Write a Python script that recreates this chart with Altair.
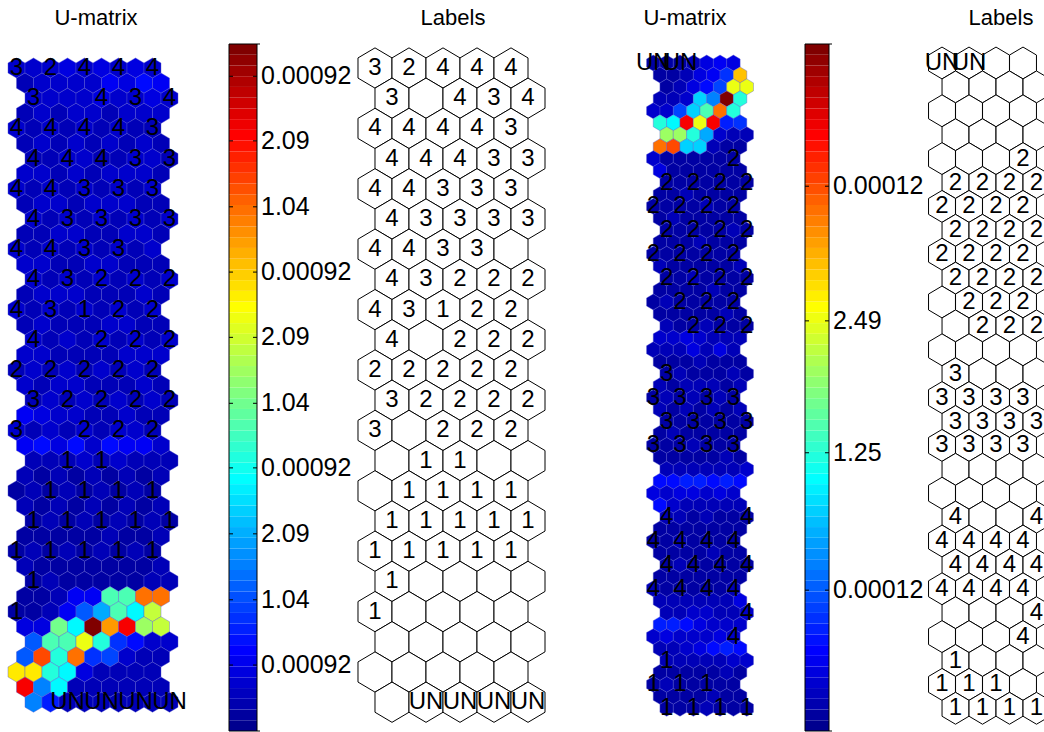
import altair as alt
import pandas as pd

TITLES = ["U-matrix", "Labels", "U-matrix", "Labels"]

# U-matrix colour levels, one character per hexagon (codebook below)
LEVEL_CODES = "0123456789fghijklmnopqrstuvwxyz"
LEVEL_VALUES = [0.00, 0.02, 0.04, 0.06, 0.08, 0.10, 0.12, 0.14, 0.16, 0.18,
                0.20, 0.24, 0.28, 0.32, 0.36, 0.40, 0.44, 0.48, 0.52, 0.56,
                0.60, 0.64, 0.68, 0.72, 0.76, 0.80, 0.84, 0.88, 0.92, 0.96, 1.00]

LEFT_UMAT = [
    "333434343", "233335465", "333343343", "232332333", "323232322",
    "232323232", "223322332", "332323332", "323232323", "233233322",
    "323232323", "223322332", "323232323", "332233222", "323232323",
    "233322232", "323232323", "232223322", "323232323", "332222333",
    "232323232", "323322232", "232323232", "543322322", "323232332",
    "564636553", "222323222", "212121212", "121212121", "212121212",
    "121212121", "111112112", "121212121", "211111112", "121111122",
    "11255lltt", "1125fhljo", "44mjzswno", "fllpk8633", "fukt89322",
    "qqkj42222", "wgj222222", "g72222222",
]

RIGHT_UMAT = [
    "1112454", "112458r", "12469pp", "223igzk", "339iltk", "kjwpw78",
    "nnkh322", "tuii211", "3111111", "4111111", "1111111", "1121111",
    "1111211", "1211111", "1111121", "1112111", "1111111", "2111112",
    "1121111", "1111211", "1211111", "1111121", "2112111", "3343222",
    "2224242", "1112111", "1211121", "2122212", "1212121", "2121212",
    "1111111", "1211111", "1112111", "1111121", "2222223", "6677676",
    "4344343", "6322222", "2212111", "1111111", "1121111", "1111211",
    "1211111", "1111111", "2111112", "2222224", "2233223", "7764333",
    "3433343", "2234676", "2222233", "1111121", "1211111", "1111211",
    "1112111",
]

LEFT_LABELS = [
    ["3", "2", "4", "4", "4"], ["3", "", "4", "3", "4"], ["4", "4", "4", "4", "3"],
    ["4", "4", "4", "3", "3"], ["4", "4", "3", "3", "3"], ["4", "3", "3", "3", "3"],
    ["4", "4", "3", "3", ""], ["4", "3", "2", "2", "2"], ["4", "3", "1", "2", "2"],
    ["4", "", "2", "2", "2"], ["2", "2", "2", "2", "2"], ["3", "2", "2", "2", "2"],
    ["3", "", "2", "2", "2"], ["", "1", "1", "", ""], ["", "1", "1", "1", "1"],
    ["1", "1", "1", "1", "1"], ["1", "1", "1", "1", "1"], ["1", "", "", "", ""],
    ["1", "", "", "", ""], ["", "", "", "", ""], ["", "", "", "", ""],
    ["", "UN", "UN", "UN", "UN"],
]

RIGHT_LABELS = [
    ["UN", "UN", "", ""], ["", "", "", ""], ["", "", "", ""], ["", "", "", ""],
    ["", "", "", "2"], ["2", "2", "2", "2"], ["2", "2", "2", "2"], ["2", "2", "2", "2"],
    ["2", "2", "2", "2"], ["2", "2", "2", "2"], ["", "2", "2", "2"], ["", "2", "2", "2"],
    ["", "", "", ""], ["3", "", "", ""], ["3", "3", "3", "3"], ["3", "3", "3", "3"],
    ["3", "3", "3", "3"], ["", "", "", ""], ["", "", "", ""], ["4", "", "", "4"],
    ["4", "4", "4", "4"], ["4", "4", "4", "4"], ["4", "4", "4", "4"], ["", "", "", "4"],
    ["", "", "", "4"], ["1", "", "", ""], ["1", "1", "1", ""], ["1", "1", "1", "1"],
]

LEFT_CB_TICKS = [0.096, 0.191, 0.287, 0.383, 0.477, 0.573, 0.668, 0.763, 0.859, 0.953]
LEFT_CB_TEXT = ["0.00092", "1.04", "2.09", "0.00092", "1.04", "2.09",
                "0.00092", "1.04", "2.09", "0.00092"]
RIGHT_CB_TICKS = [0.205, 0.405, 0.597, 0.793]
RIGHT_CB_TEXT = ["0.00012", "1.25", "2.49", "0.00012"]

JET_STOPS = [0.0, 0.111, 0.365, 0.619, 0.873, 1.0]
JET_COLORS = ["#00008f", "#0000ff", "#00ffff", "#ffff00", "#ff0000", "#800000"]
N_BANDS = 64

FONT = "Liberation Sans"
HEX = "M0,-1L0.845,-0.5L0.845,0.5L0,1L-0.845,0.5L-0.845,-0.5Z"
ROW_SHIFT = [0.0, 0.5, 1.0, 0.5]


def umat_frame(rows):
    recs = []
    for i, row in enumerate(rows):
        for j, ch in enumerate(row):
            recs.append({"x": (j + ROW_SHIFT[i % 4]) / 2.0, "y": i / 2.0,
                         "v": LEVEL_VALUES[LEVEL_CODES.index(ch)]})
    return pd.DataFrame(recs)


def label_frame(rows):
    recs = []
    for r, row in enumerate(rows):
        for c, lab in enumerate(row):
            recs.append({"x": c + 0.5 * (r % 2), "y": r, "lab": lab})
    return pd.DataFrame(recs)


def sc(dom, rng):
    return alt.Scale(domain=dom, range=rng, nice=False, zero=False)


COLOR = alt.Scale(domain=JET_STOPS, range=JET_COLORS, interpolate="rgb")

LU_X, LU_Y = sc([0, 4], [16.5, 152.5]), sc([0, 21], [68, 702.2])
LL_X = sc([0, 4], [375, 511])
RU_X, RU_Y = sc([0, 3], [653.3, 733.4]), sc([0, 27], [63, 708.3])
RL_X = sc([0, 3], [942, 1023])


def umat_layers(rows, labels, xs, ys, size):
    hexes = alt.Chart(umat_frame(rows)).mark_point(
        shape=HEX, filled=True, opacity=1, stroke="#5a5ad0", strokeWidth=0.4
    ).encode(
        x=alt.X("x:Q", scale=xs, axis=None),
        y=alt.Y("y:Q", scale=ys, axis=None),
        color=alt.Color("v:Q", scale=COLOR, legend=None),
        size=alt.value(size),
    )
    lf = label_frame(labels)
    text = alt.Chart(lf[lf["lab"] != ""]).mark_text(
        font=FONT, fontSize=24, color="black", align="center", baseline="middle"
    ).encode(
        x=alt.X("x:Q", scale=xs, axis=None),
        y=alt.Y("y:Q", scale=ys, axis=None),
        text="lab:N",
    )
    return [hexes, text]


def label_layers(labels, xs, ys, size):
    lf = label_frame(labels)
    hexes = alt.Chart(lf).mark_point(
        shape=HEX, filled=True, fill="white", opacity=1, stroke="black", strokeWidth=1
    ).encode(
        x=alt.X("x:Q", scale=xs, axis=None),
        y=alt.Y("y:Q", scale=ys, axis=None),
        size=alt.value(size),
    )
    text = alt.Chart(lf[lf["lab"] != ""]).mark_text(
        font=FONT, fontSize=24, color="black", align="center", baseline="middle"
    ).encode(
        x=alt.X("x:Q", scale=xs, axis=None),
        y=alt.Y("y:Q", scale=ys, axis=None),
        text="lab:N",
    )
    return [hexes, text]


CB_Y = sc([0, 1], [731, 44])


def colorbar_layers(x0, x1, ticks, texts):
    bands = pd.DataFrame({
        "b0": [i / N_BANDS for i in range(N_BANDS)],
        "b1": [(i + 1) / N_BANDS for i in range(N_BANDS)],
        "v": [i / (N_BANDS - 1) for i in range(N_BANDS)],
    })
    bar = alt.Chart(bands).mark_rect().encode(
        x=alt.value(x0), x2=alt.value(x1),
        y=alt.Y("b0:Q", scale=CB_Y, axis=None), y2="b1:Q",
        color=alt.Color("v:Q", scale=COLOR, legend=None),
    )
    frame = alt.Chart(pd.DataFrame({"a": [0]})).mark_rect(
        fillOpacity=0, stroke="black", strokeWidth=1
    ).encode(x=alt.value(x0), x2=alt.value(x1), y=alt.value(44), y2=alt.value(731))
    td = pd.DataFrame({"t": ticks, "s": texts})
    tl = alt.Chart(td).mark_rule(color="black", strokeWidth=1).encode(
        x=alt.value(x0), x2=alt.value(x0 + 4),
        y=alt.Y("t:Q", scale=CB_Y, axis=None))
    tr = alt.Chart(td).mark_rule(color="black", strokeWidth=1).encode(
        x=alt.value(x1 - 4), x2=alt.value(x1),
        y=alt.Y("t:Q", scale=CB_Y, axis=None))
    stubs = alt.Chart(pd.DataFrame({"t": [0.0, 1.0]})).mark_rule(
        color="black", strokeWidth=1).encode(
        x=alt.value(x1), x2=alt.value(x1 + 3),
        y=alt.Y("t:Q", scale=CB_Y, axis=None))
    lab = alt.Chart(td).mark_text(
        font=FONT, fontSize=25, color="black", align="left", baseline="middle"
    ).encode(x=alt.value(x1 + 4), y=alt.Y("t:Q", scale=CB_Y, axis=None), text="s:N")
    return [bar, frame, tl, tr, stubs, lab]


def title_layer(text, xpos):
    return alt.Chart(pd.DataFrame({"t": [text]})).mark_text(
        font=FONT, fontSize=22, color="black", align="center", baseline="middle"
    ).encode(x=alt.value(xpos), y=alt.value(18), text="t:N")


layers = []
layers += umat_layers(LEFT_UMAT, LEFT_LABELS, LU_X, LU_Y, 406)
layers += colorbar_layers(229, 257, LEFT_CB_TICKS, LEFT_CB_TEXT)
layers += label_layers(LEFT_LABELS, LL_X, LU_Y, 1621)
layers += umat_layers(RIGHT_UMAT, RIGHT_LABELS, RU_X, RU_Y, 254)
layers += colorbar_layers(805, 829, RIGHT_CB_TICKS, RIGHT_CB_TEXT)
layers += label_layers(RIGHT_LABELS, RL_X, RU_Y, 1015)
for t, xp in zip(TITLES, [96, 453, 685, 1001]):
    layers.append(title_layer(t, xp))

chart = alt.layer(*layers).resolve_scale(
    x="independent", y="independent"
).properties(
    width=1044, height=732, padding=0, autosize="none", background="white"
).configure_view(stroke=None)

chart.save("out.html", embed_options={"renderer": "svg", "actions": False})
